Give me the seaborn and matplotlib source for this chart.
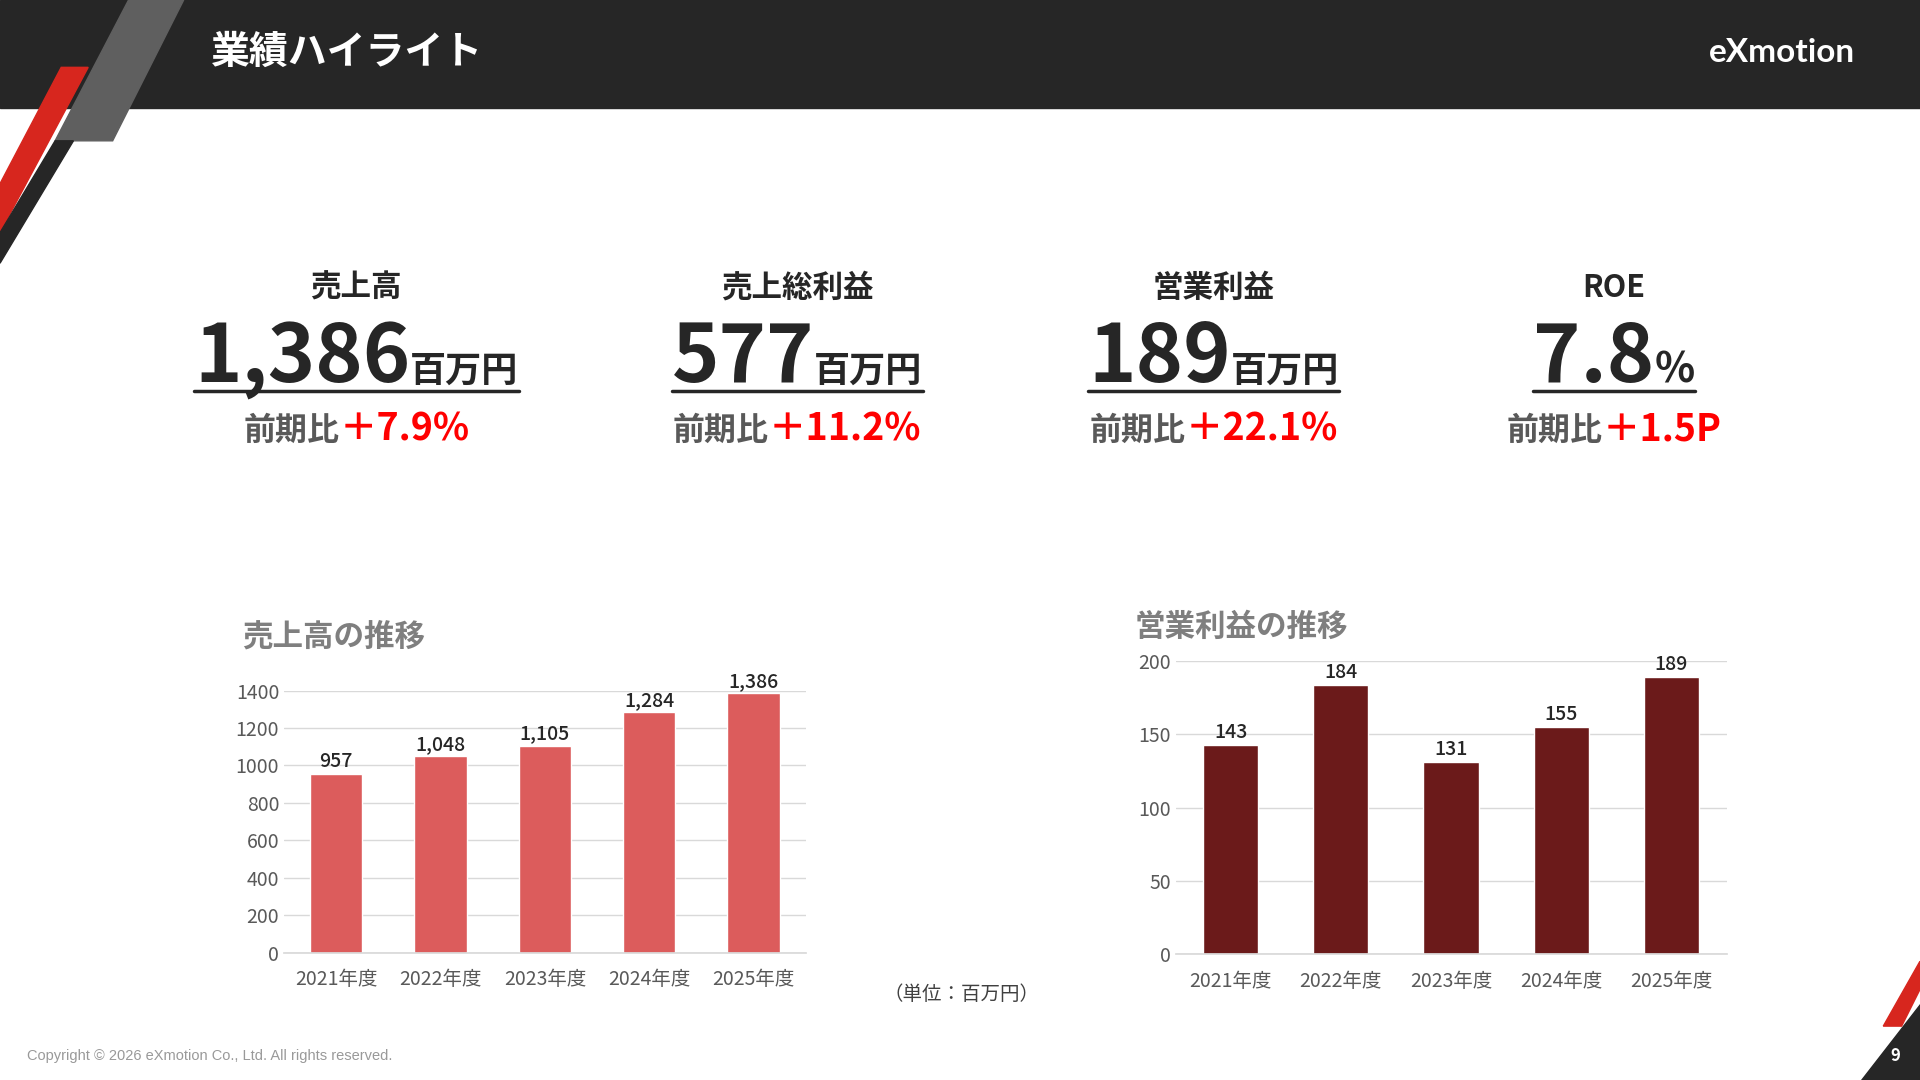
import matplotlib
matplotlib.use("Agg")
import matplotlib.pyplot as plt
import seaborn as sns
import pandas as pd
from matplotlib.patches import Polygon, Rectangle

years = ["2021年度", "2022年度", "2023年度", "2024年度", "2025年度"]
sales = [957, 1048, 1105, 1284, 1386]
op_profit = [143, 184, 131, 155, 189]
kpi_labels = ["売上高", "売上総利益", "営業利益", "ROE"]
kpi_values = ["1,386", "577", "189", "7.8"]
kpi_units = ["百万円", "百万円", "百万円", "%"]
kpi_changes = ["＋7.9%", "＋11.2%", "＋22.1%", "＋1.5P"]

sns.set_theme(style="white")
plt.rcParams['font.family'] = ['Noto Sans CJK JP', 'DejaVu Sans']

fig = plt.figure(figsize=(19.2, 10.8), dpi=100)
W, H = 1568, 882
def fx(x): return x / W
def fy(y): return 1 - y / H

# header
fig.patches.append(Rectangle((0, fy(88)), 1, 88 / H, transform=fig.transFigure, color="#262626", zorder=0))
fig.patches.append(Polygon([(fx(105), 1), (fx(150), 1), (fx(92), fy(115)), (fx(45), fy(115))], closed=True,
                           transform=fig.transFigure, color="#5f5f5f", zorder=1))
fig.patches.append(Polygon([(fx(50), fy(55)), (fx(72), fy(55)), (fx(0), fy(190)), (fx(0), fy(150))], closed=True,
                           transform=fig.transFigure, color="#d7261e", zorder=2))
fig.patches.append(Polygon([(fx(45), fy(115)), (fx(60), fy(115)), (fx(0), fy(215)), (fx(0), fy(190))], closed=True,
                           transform=fig.transFigure, color="#262626", zorder=2))
fig.text(fx(172), fy(43), "業績ハイライト", color="white", fontsize=28, fontweight="bold", va="center")
fig.text(fx(1455), fy(43), "eXmotion", color="white", fontsize=24, fontweight="bold", va="center", ha="center",
         family=["Lato", "DejaVu Sans"])

# bottom right
fig.patches.append(Polygon([(fx(1520), 0), (1, 0), (1, fy(820))], closed=True, transform=fig.transFigure, color="#262626"))
fig.patches.append(Polygon([(fx(1538), fy(838)), (fx(1553), fy(838)), (1, fy(808)), (1, fy(785))], closed=True,
                           transform=fig.transFigure, color="#d7261e"))
fig.text(fx(1548), fy(862), "9", color="white", fontsize=12, fontweight="bold", ha="center", va="center")
fig.text(fx(22), fy(862), "Copyright © 2026 eXmotion Co., Ltd. All rights reserved.", color="#999999", fontsize=10.5, va="center",
         family=["Liberation Sans", "DejaVu Sans"])

# KPIs
xs = [291, 651, 991, 1318]
for x, lab, val, unit, ch in zip(xs, kpi_labels, kpi_values, kpi_units, kpi_changes):
    fig.text(fx(x), fy(235), lab, ha="center", va="center", fontsize=22, fontweight="bold", color="#262626")
    t1 = fig.text(0, 0, val, fontsize=58, fontweight="bold", color="#262626", va="baseline")
    t2 = fig.text(0, 0, unit, fontsize=26 if unit != "%" else 30, fontweight="bold", color="#262626", va="baseline")
    fig.canvas.draw()
    r = fig.canvas.get_renderer()
    w1 = t1.get_window_extent(r).width / fig.bbox.width
    w2 = t2.get_window_extent(r).width / fig.bbox.width
    left = fx(x) - (w1 + w2) / 2
    t1.set_position((left, fy(312)))
    t2.set_position((left + w1, fy(312)))
    fig.add_artist(plt.Line2D([left, left + w1 + w2], [fy(319), fy(319)], transform=fig.transFigure,
                              color="#262626", lw=2.5))
    t3 = fig.text(0, 0, "前期比", fontsize=23, fontweight="bold", color="#595959", va="center")
    t4 = fig.text(0, 0, ch, fontsize=27, fontweight="bold", color="#ff0000", va="center")
    fig.canvas.draw()
    w3 = t3.get_window_extent(r).width / fig.bbox.width
    w4 = t4.get_window_extent(r).width / fig.bbox.width
    l2 = fx(x) - (w3 + w4) / 2
    t3.set_position((l2, fy(352)))
    t4.set_position((l2 + w3, fy(350)))

def bar_chart(rect, vals, color, ylim, ticks, fmt):
    ax = fig.add_axes(rect)
    df = pd.DataFrame({"year": years, "v": vals})
    sns.barplot(data=df, x="year", y="v", color=color, saturation=1, width=0.5, ax=ax)
    ax.set_ylim(0, ylim)
    ax.set_yticks(ticks)
    ax.yaxis.grid(True, color="#d9d9d9", lw=1)
    ax.set_axisbelow(True)
    for s in ["top", "right", "left"]:
        ax.spines[s].set_visible(False)
    ax.spines["bottom"].set_color("#d9d9d9")
    ax.set_xlabel(""); ax.set_ylabel("")
    ax.tick_params(axis="both", length=0, labelsize=14, colors="#595959")
    ax.tick_params(axis="x", pad=12)
    for i, v in enumerate(vals):
        ax.text(i, v + ylim * 0.01, fmt(v), ha="center", va="bottom", fontsize=14, fontweight="medium", color="#262626")
    return ax

bar_chart([fx(232), fy(778), fx(658) - fx(232), fy(564) - fy(778)], sales, "#dc5c5c", 1400,
          range(0, 1401, 200), lambda v: f"{v:,}")
fig.text(fx(198), fy(520), "売上高の推移", fontsize=22, fontweight="bold", color="#7f7f7f", va="center")

bar_chart([fx(960), fy(779), fx(1410) - fx(960), fy(540) - fy(779)], op_profit, "#6b1a1a", 200,
          range(0, 201, 50), lambda v: f"{v}")
fig.text(fx(927), fy(512), "営業利益の推移", fontsize=22, fontweight="bold", color="#7f7f7f", va="center")

fig.text(fx(785), fy(812), "（単位：百万円）", fontsize=14, color="#404040", ha="center", va="center")

fig.savefig("out.png", dpi=100, facecolor="white")
